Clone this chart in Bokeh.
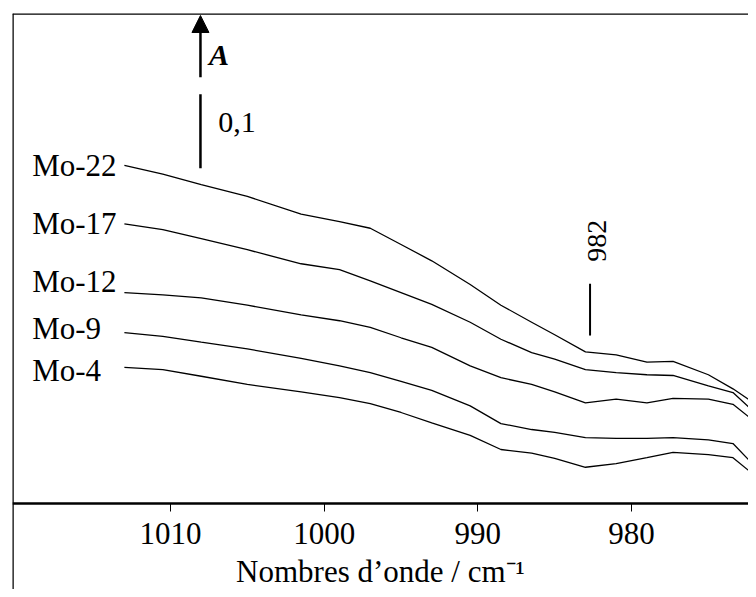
from bokeh.plotting import figure
from bokeh.models import Range1d, FixedTicker, Span, Arrow, NormalHead, ColumnDataSource
from bokeh.core.properties import value
from bokeh.embed import file_html
from bokeh.resources import INLINE
import math

# Wavenumbers (cm-1) at which the spectra were read
wavenumber = [1013, 1010.5, 1008, 1005, 1001.5, 999, 997, 995, 993, 990.5,
              988.5, 986.5, 985, 983, 981, 979, 977.3, 975, 973.4, 970]

# Absorbance (stacked, as plotted)
mo22 = [0.457, 0.445, 0.431, 0.415, 0.391, 0.381, 0.372, 0.350, 0.328, 0.296,
        0.268, 0.245, 0.228, 0.205, 0.201, 0.191, 0.192, 0.174, 0.155, 0.107]
mo17 = [0.378, 0.370, 0.358, 0.343, 0.324, 0.316, 0.301, 0.285, 0.269, 0.245,
        0.222, 0.204, 0.195, 0.181, 0.177, 0.174, 0.173, 0.159, 0.150, 0.085]
mo12 = [0.285, 0.282, 0.278, 0.268, 0.255, 0.247, 0.238, 0.224, 0.211, 0.186,
        0.170, 0.161, 0.151, 0.136, 0.141, 0.136, 0.142, 0.141, 0.134, 0.078]
mo9 = [0.231, 0.226, 0.218, 0.209, 0.196, 0.186, 0.177, 0.165, 0.153, 0.132,
       0.108, 0.100, 0.096, 0.089, 0.088, 0.088, 0.089, 0.086, 0.081, 0.008]
mo4 = [0.184, 0.181, 0.172, 0.161, 0.151, 0.143, 0.135, 0.123, 0.109, 0.092,
       0.073, 0.068, 0.061, 0.049, 0.054, 0.062, 0.069, 0.066, 0.062, 0.004]

series = [mo22, mo17, mo12, mo9, mo4]
series_names = ["Mo-22", "Mo-17", "Mo-12", "Mo-9", "Mo-4"]

x_ticks = [1010, 1000, 990, 980]
band_position = 982.7
band_label = "982"
scale_bar = 0.1
scale_label = "0,1"
x_title = "Nombres d\u2019onde / cm\u207b\u00b9"

FONT = "Liberation Serif"

X_LEFT, X_RIGHT = 1020.28, 972.39
Y_BOTTOM, Y_TOP = -0.1162, 0.6622

p = figure(width=748, height=589, output_backend="svg", toolbar_location=None,
           x_range=Range1d(X_LEFT, X_RIGHT), y_range=Range1d(Y_BOTTOM, Y_TOP),
           y_axis_location=None, min_border_left=12, min_border_top=13,
           min_border_right=0, min_border_bottom=0)
p.outline_line_color = None
p.grid.visible = False
p.background_fill_color = "white"
p.border_fill_color = "white"

ax = p.xaxis[0]
ax.fixed_location = 0
ax.ticker = FixedTicker(ticks=x_ticks)
ax.minor_tick_line_color = None
ax.major_tick_in = 0
ax.major_tick_out = 8
ax.major_tick_line_width = 1
ax.axis_line_width = 2.5
ax.axis_line_color = "black"
ax.major_label_text_font = FONT
ax.major_label_text_font_size = "31px"
ax.major_label_text_color = "black"
ax.major_label_standoff = 11
ax.axis_label = x_title
ax.axis_label_text_font = FONT
ax.axis_label_text_font_style = "normal"
ax.axis_label_text_font_size = "31px"
ax.axis_label_text_color = "black"
ax.axis_label_standoff = 7

# frame border (left and top)
p.add_layout(Span(location=X_LEFT, dimension="height", line_color="black", line_width=2.5))
p.add_layout(Span(location=Y_TOP, dimension="width", line_color="black", line_width=2.5))

for s in series:
    p.line(wavenumber, s, line_color="black", line_width=1.3)

# curve labels
label_x = 1019.0
label_dy = [0.0, 0.0, 0.015, 0.005, -0.004]
src = ColumnDataSource(dict(x=[label_x] * len(series),
                            y=[s[0] + d for s, d in zip(series, label_dy)],
                            t=series_names))
p.text(x="x", y="y", text="t", source=src, text_font=value(FONT),
       text_font_size="31px", text_align="left", text_baseline="middle",
       text_color="black")

# absorbance arrow and scale bar
ax_x = 1008.05
p.add_layout(Arrow(end=NormalHead(size=17, fill_color="black", fill_alpha=1.0,
                                  line_color="black", line_width=1),
                   x_start=ax_x, y_start=0.576, x_end=ax_x, y_end=0.6595,
                   line_width=2.5, line_color="black"))
p.text(x=[ax_x - 0.55], y=[0.607], text=["A"], text_font=value(FONT),
       text_font_size="30px", text_font_style="bold italic", text_align="left",
       text_baseline="middle", text_color="black")
p.segment(x0=[ax_x], y0=[0.453], x1=[ax_x], y1=[0.453 + scale_bar],
          line_color="black", line_width=2.5)
p.text(x=[ax_x - 1.15], y=[0.515], text=[scale_label], text_font=value(FONT),
       text_font_size="30px", text_align="left", text_baseline="middle",
       text_color="black")

# band marker
p.segment(x0=[band_position], y0=[0.227], x1=[band_position], y1=[0.297],
          line_color="black", line_width=2)
p.text(x=[band_position - 0.45], y=[0.355], text=[band_label], text_font=value(FONT),
       text_font_size="28px", text_align="center", text_baseline="middle",
       angle=math.pi / 2, text_color="black")

open("out.html", "w").write(file_html(p, INLINE))
